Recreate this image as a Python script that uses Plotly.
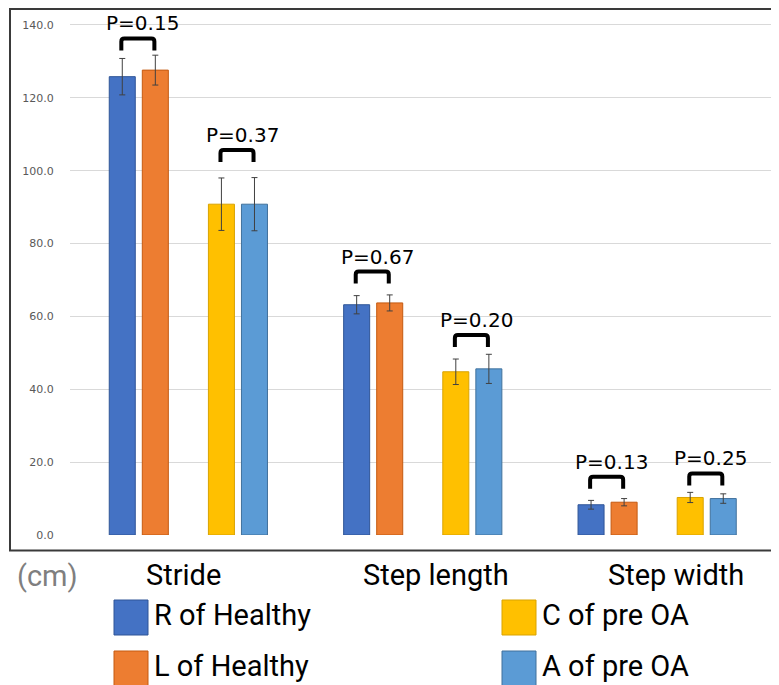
import plotly.graph_objects as go

# ---------------- data ----------------
categories = ["Stride", "Step length", "Step width"]
series_names = ["R of Healthy", "L of Healthy", "C of pre OA", "A of pre OA"]
r_healthy = [125.8, 63.2, 8.3]
r_healthy_sd = [5.0, 2.5, 1.2]
l_healthy = [127.6, 63.7, 9.0]
l_healthy_sd = [4.1, 2.2, 1.0]
c_preoa = [90.8, 44.8, 10.3]
c_preoa_sd = [7.2, 3.5, 1.4]
a_preoa = [90.8, 45.6, 10.0]
a_preoa_sd = [7.3, 4.0, 1.3]
p_healthy = ["P=0.15", "P=0.67", "P=0.13"]
p_preoa = ["P=0.37", "P=0.20", "P=0.25"]
bracket_healthy_y = [136.3, 72.3, 16.0]
bracket_preoa_y = [105.7, 54.9, 16.9]
y_tick_vals = [0, 20, 40, 60, 80, 100, 120, 140]
y_tick_text = ["0.0", "20.0", "40.0", "60.0", "80.0", "100.0", "120.0", "140.0"]
unit_label = "(cm)"

# ---------------- styles ----------------
colors = ["#4472C4", "#ED7D31", "#FFC000", "#5B9BD5"]
edge_colors = ["#2F5597", "#C55A11", "#D9A300", "#41719C"]
offsets = [-0.282, -0.141, 0.141, 0.282]   # bar-centre offset within a group
bar_w = 0.111

OFF = 8                      # default page body margin
PAGE_W, PAGE_H = 779, 685
W, H = PAGE_W - OFF, PAGE_H - OFF
PL, PR, PT, PB = 70, 772, 10, 535   # plot area in page pixels
ML, MR, MT, MB = PL - OFF, W - (PR - OFF), PT - OFF, H - (PB - OFF)
PW, PH = PR - PL, PB - PT
x_range = [-0.505, 2.49]
y_range = [0, 144.1]
px_per_y = PH / (y_range[1] - y_range[0])
px_per_x = PW / (x_range[1] - x_range[0])

def px(xpix):
    return (xpix - PL) / PW

def py(ypix):
    return (PB - ypix) / PH

values = [r_healthy, l_healthy, c_preoa, a_preoa]
sds = [r_healthy_sd, l_healthy_sd, c_preoa_sd, a_preoa_sd]

fig = go.Figure()
for k in range(4):
    fig.add_trace(go.Bar(
        x=[i + offsets[k] for i in range(len(categories))],
        y=values[k],
        width=bar_w,
        name=series_names[k],
        marker=dict(color=colors[k], line=dict(color=edge_colors[k], width=1)),
        error_y=dict(type="data", array=sds[k], visible=True,
                     color="#404040", thickness=1, width=3),
        showlegend=False,
    ))

shapes = []
annotations = []

# significance brackets
leg = 12 / px_per_y
rx = 3 / px_per_x
ry = 3 / px_per_y
for pairs, tops, texts in [((0, 1), bracket_healthy_y, p_healthy),
                           ((2, 3), bracket_preoa_y, p_preoa)]:
    for i in range(len(categories)):
        x1 = i + offsets[pairs[0]] - 0.004
        x2 = i + offsets[pairs[1]] - 0.004
        yt = tops[i]
        yb = yt - leg
        path = (f"M {x1},{yb} L {x1},{yt - ry} Q {x1},{yt} {x1 + rx},{yt} "
                f"L {x2 - rx},{yt} Q {x2},{yt} {x2},{yt - ry} L {x2},{yb}")
        shapes.append(dict(type="path", path=path, xref="x", yref="y",
                           line=dict(color="black", width=4)))
        annotations.append(dict(x=(x1 + x2) / 2, y=yt, xref="x", yref="y",
                                text=texts[i], showarrow=False, yshift=15, xshift=5,
                                yanchor="middle",
                                font=dict(family="DejaVu Sans", size=20, color="black")))

# chart frame
shapes.append(dict(type="rect", xref="paper", yref="paper",
                   x0=px(10), x1=px(790), y0=py(550.5), y1=py(9),
                   line=dict(color="#3a3a3a", width=2), fillcolor="rgba(0,0,0,0)",
                   layer="above"))

# category labels
label_shift = [-5, 13, 19]
for i, c in enumerate(categories):
    annotations.append(dict(x=i, y=py(575), xref="x", yref="paper", text=c,
                            showarrow=False, xshift=label_shift[i], yanchor="middle",
                            font=dict(family="Roboto", size=29, color="black")))
annotations.append(dict(x=px(15), y=py(576), xref="paper", yref="paper",
                        text=unit_label, showarrow=False, xanchor="left",
                        yanchor="middle",
                        font=dict(family="Roboto", size=29, color="#7f7f7f")))

# legend (drawn manually, 2x2)
leg_pos = [(114, 600), (114, 651), (502, 600), (502, 651)]
for k in range(4):
    lx, ly = leg_pos[k]
    shapes.append(dict(type="rect", xref="paper", yref="paper",
                       x0=px(lx), x1=px(lx + 34), y0=py(ly + 35), y1=py(ly),
                       fillcolor=colors[k], line=dict(color=edge_colors[k], width=1)))
    annotations.append(dict(x=px(lx + 38), y=py(ly + 15), xref="paper", yref="paper",
                            text=series_names[k], showarrow=False, xanchor="left",
                            yanchor="middle",
                            font=dict(family="Roboto", size=29, color="black")))

fig.update_layout(
    width=W, height=H,
    margin=dict(l=ML, r=MR, t=MT, b=MB, pad=0),
    paper_bgcolor="white", plot_bgcolor="white",
    barmode="overlay",
    shapes=shapes, annotations=annotations,
    xaxis=dict(range=x_range, showticklabels=False, showgrid=False,
               zeroline=False, showline=False, ticks=""),
    yaxis=dict(range=y_range, tickvals=y_tick_vals, ticktext=y_tick_text,
               showgrid=True, gridcolor="#d9d9d9", gridwidth=1,
               zeroline=False, showline=False,
               ticks="outside", ticklen=13, tickcolor="rgba(0,0,0,0)",
               tickfont=dict(family="DejaVu Sans", size=11, color="#595959")),
)

fig.write_html("out.html")
